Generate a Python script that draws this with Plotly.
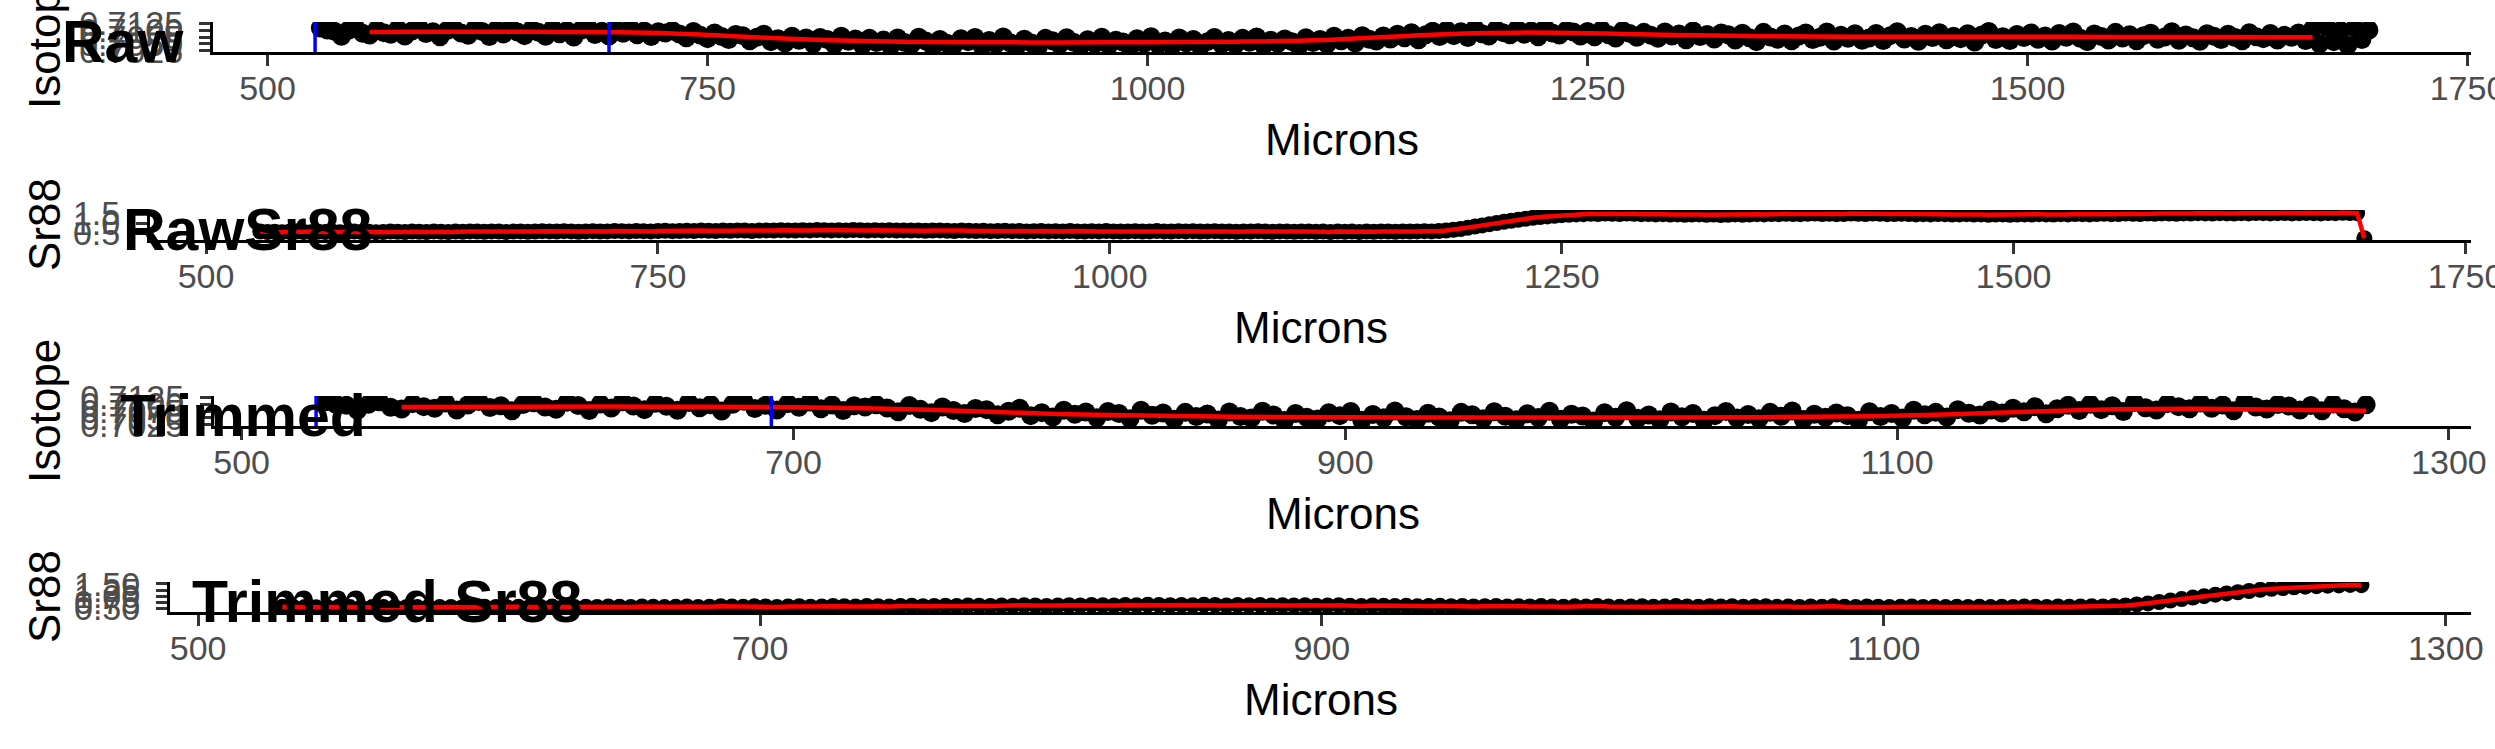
import plotly.graph_objects as go

W, H = 2495, 749

# ---------------- data ----------------
microns = [
    530, 534, 538, 542, 546, 550, 554, 558, 562, 566,
    570, 574, 578, 582, 586, 590, 594, 598, 602, 606,
    610, 614, 618, 622, 626, 630, 634, 638, 642, 646,
    650, 654, 658, 662, 666, 670, 674, 678, 682, 686,
    690, 694, 698, 702, 706, 710, 714, 718, 722, 726,
    730, 734, 738, 742, 746, 750, 754, 758, 762, 766,
    770, 774, 778, 782, 786, 790, 794, 798, 802, 806,
    810, 814, 818, 822, 826, 830, 834, 838, 842, 846,
    850, 854, 858, 862, 866, 870, 874, 878, 882, 886,
    890, 894, 898, 902, 906, 910, 914, 918, 922, 926,
    930, 934, 938, 942, 946, 950, 954, 958, 962, 966,
    970, 974, 978, 982, 986, 990, 994, 998, 1002, 1006,
    1010, 1014, 1018, 1022, 1026, 1030, 1034, 1038, 1042, 1046,
    1050, 1054, 1058, 1062, 1066, 1070, 1074, 1078, 1082, 1086,
    1090, 1094, 1098, 1102, 1106, 1110, 1114, 1118, 1122, 1126,
    1130, 1134, 1138, 1142, 1146, 1150, 1154, 1158, 1162, 1166,
    1170, 1174, 1178, 1182, 1186, 1190, 1194, 1198, 1202, 1206,
    1210, 1214, 1218, 1222, 1226, 1230, 1234, 1238, 1242, 1246,
    1250, 1254, 1258, 1262, 1266, 1270, 1274, 1278, 1282, 1286,
    1290, 1294, 1298, 1302, 1306, 1310, 1314, 1318, 1322, 1326,
    1330, 1334, 1338, 1342, 1346, 1350, 1354, 1358, 1362, 1366,
    1370, 1374, 1378, 1382, 1386, 1390, 1394, 1398, 1402, 1406,
    1410, 1414, 1418, 1422, 1426, 1430, 1434, 1438, 1442, 1446,
    1450, 1454, 1458, 1462, 1466, 1470, 1474, 1478, 1482, 1486,
    1490, 1494, 1498, 1502, 1506, 1510, 1514, 1518, 1522, 1526,
    1530, 1534, 1538, 1542, 1546, 1550, 1554, 1558, 1562, 1566,
    1570, 1574, 1578, 1582, 1586, 1590, 1594, 1598, 1602, 1606,
    1610, 1614, 1618, 1622, 1626, 1630, 1634, 1638, 1642, 1646,
    1650, 1654, 1658, 1662, 1666, 1670, 1674, 1678, 1682, 1686,
    1690, 1694,
]

raw_isotope = [
    0.7108, 0.7101, 0.7096, 0.7078, 0.7100, 0.7109, 0.7089, 0.7082, 0.7102, 0.7091,
    0.7085, 0.7104, 0.7079, 0.7097, 0.7110, 0.7088, 0.7094, 0.7076, 0.7099, 0.7105,
    0.7090, 0.7081, 0.7107, 0.7095, 0.7077, 0.7101, 0.7086, 0.7109, 0.7093, 0.7080,
    0.7103, 0.7092, 0.7078, 0.7106, 0.7087, 0.7098, 0.7075, 0.7100, 0.7111, 0.7084,
    0.7096, 0.7079, 0.7102, 0.7089, 0.7108, 0.7083, 0.7097, 0.7077, 0.7094, 0.7090,
    0.7098, 0.7086, 0.7072, 0.7095, 0.7081, 0.7069, 0.7090, 0.7077, 0.7066, 0.7084,
    0.7080, 0.7061, 0.7074, 0.7085, 0.7058, 0.7069, 0.7053, 0.7078, 0.7063, 0.7071,
    0.7050, 0.7073, 0.7066, 0.7047, 0.7078, 0.7059, 0.7068, 0.7045, 0.7070, 0.7055,
    0.7064, 0.7042, 0.7071, 0.7055, 0.7049, 0.7074, 0.7060, 0.7040, 0.7066, 0.7052,
    0.7046, 0.7069, 0.7058, 0.7073, 0.7041, 0.7062, 0.7050, 0.7075, 0.7054, 0.7044,
    0.7067, 0.7053, 0.7039, 0.7070, 0.7061, 0.7047, 0.7072, 0.7056, 0.7043, 0.7065,
    0.7051, 0.7074, 0.7045, 0.7063, 0.7057, 0.7038, 0.7069, 0.7052, 0.7076, 0.7048,
    0.7060, 0.7043, 0.7071, 0.7054, 0.7066, 0.7041, 0.7058, 0.7073, 0.7049, 0.7062,
    0.7047, 0.7070, 0.7056, 0.7075, 0.7044, 0.7063, 0.7052, 0.7068, 0.7058, 0.7041,
    0.7072, 0.7055, 0.7066, 0.7049, 0.7078, 0.7061, 0.7070, 0.7053, 0.7080, 0.7067,
    0.7060, 0.7079, 0.7068, 0.7085, 0.7072, 0.7091, 0.7065, 0.7083, 0.7096, 0.7077,
    0.7100, 0.7080, 0.7094, 0.7073, 0.7106, 0.7087, 0.7079, 0.7102, 0.7091, 0.7083,
    0.7104, 0.7085, 0.7097, 0.7076, 0.7108, 0.7090, 0.7082, 0.7099, 0.7093, 0.7079,
    0.7095, 0.7076, 0.7101, 0.7083, 0.7071, 0.7098, 0.7088, 0.7074, 0.7092, 0.7081,
    0.7070, 0.7093, 0.7079, 0.7086, 0.7065, 0.7097, 0.7077, 0.7084, 0.7068, 0.7090,
    0.7083, 0.7064, 0.7089, 0.7072, 0.7058, 0.7092, 0.7075, 0.7067, 0.7086, 0.7061,
    0.7079, 0.7090, 0.7066, 0.7074, 0.7093, 0.7060, 0.7081, 0.7070, 0.7087, 0.7063,
    0.7071, 0.7088, 0.7062, 0.7080, 0.7094, 0.7068, 0.7077, 0.7059, 0.7085, 0.7073,
    0.7091, 0.7065, 0.7078, 0.7069, 0.7087, 0.7057, 0.7082, 0.7095, 0.7066, 0.7076,
    0.7062, 0.7084, 0.7073, 0.7090, 0.7067, 0.7079, 0.7060, 0.7088, 0.7074, 0.7093,
    0.7070, 0.7058, 0.7086, 0.7077, 0.7064, 0.7092, 0.7071, 0.7083, 0.7061, 0.7080,
    0.7089, 0.7067, 0.7075, 0.7094, 0.7063, 0.7082, 0.7072, 0.7059, 0.7087, 0.7078,
    0.7066, 0.7085, 0.7073, 0.7061, 0.7091, 0.7076, 0.7069, 0.7088, 0.7064, 0.7081,
    0.7074, 0.7090, 0.7062, 0.7104, 0.7050, 0.7112, 0.7058, 0.7098, 0.7045, 0.7108,
    0.7066, 0.7101,
]

raw_sr88 = [
    0.57, 0.55, 0.56, 0.54, 0.56, 0.57, 0.55, 0.54, 0.56, 0.55,
    0.56, 0.54, 0.55, 0.57, 0.55, 0.56, 0.54, 0.55, 0.57, 0.56,
    0.55, 0.57, 0.56, 0.55, 0.58, 0.56, 0.55, 0.57, 0.56, 0.58,
    0.57, 0.56, 0.58, 0.57, 0.55, 0.57, 0.58, 0.56, 0.57, 0.59,
    0.58, 0.57, 0.59, 0.58, 0.56, 0.58, 0.59, 0.57, 0.58, 0.60,
    0.59, 0.58, 0.60, 0.59, 0.58, 0.60, 0.61, 0.59, 0.60, 0.61,
    0.60, 0.62, 0.61, 0.60, 0.62, 0.61, 0.63, 0.62, 0.60, 0.62,
    0.63, 0.62, 0.64, 0.63, 0.62, 0.64, 0.63, 0.65, 0.64, 0.63,
    0.64, 0.63, 0.65, 0.64, 0.62, 0.64, 0.63, 0.64, 0.62, 0.63,
    0.62, 0.63, 0.61, 0.62, 0.63, 0.61, 0.60, 0.62, 0.61, 0.60,
    0.61, 0.59, 0.60, 0.61, 0.59, 0.60, 0.58, 0.59, 0.60, 0.58,
    0.59, 0.58, 0.60, 0.58, 0.57, 0.59, 0.58, 0.60, 0.58, 0.57,
    0.58, 0.59, 0.57, 0.58, 0.60, 0.58, 0.57, 0.59, 0.58, 0.59,
    0.57, 0.58, 0.59, 0.57, 0.58, 0.56, 0.58, 0.57, 0.59, 0.57,
    0.56, 0.58, 0.57, 0.56, 0.57, 0.58, 0.56, 0.57, 0.55, 0.57,
    0.56, 0.57, 0.55, 0.57, 0.56, 0.58, 0.57, 0.56, 0.58, 0.57,
    0.58, 0.59, 0.58, 0.60, 0.62, 0.66, 0.70, 0.76, 0.82, 0.88,
    0.94, 1.00, 1.06, 1.11, 1.16, 1.21, 1.26, 1.30, 1.33, 1.36,
    1.39, 1.41, 1.43, 1.44, 1.46, 1.45, 1.47, 1.46, 1.45, 1.47,
    1.46, 1.44, 1.45, 1.43, 1.44, 1.42, 1.43, 1.41, 1.42, 1.43,
    1.41, 1.42, 1.40, 1.41, 1.43, 1.41, 1.42, 1.44, 1.43, 1.45,
    1.44, 1.46, 1.45, 1.44, 1.46, 1.47, 1.45, 1.46, 1.44, 1.45,
    1.47, 1.46, 1.45, 1.47, 1.46, 1.44, 1.45, 1.46, 1.45, 1.43,
    1.44, 1.43, 1.45, 1.44, 1.42, 1.43, 1.44, 1.42, 1.43, 1.41,
    1.42, 1.43, 1.41, 1.42, 1.43, 1.42, 1.44, 1.43, 1.42, 1.44,
    1.43, 1.45, 1.44, 1.43, 1.45, 1.46, 1.44, 1.45, 1.47, 1.46,
    1.45, 1.47, 1.46, 1.48, 1.47, 1.46, 1.48, 1.47, 1.49, 1.48,
    1.47, 1.49, 1.48, 1.47, 1.49, 1.48, 1.50, 1.49, 1.48, 1.49,
    1.50, 1.48, 1.49, 1.50, 1.49, 1.48, 1.50, 1.49, 1.51, 1.50,
    1.49, 0.24,
]

raw_smooth_microns = [558, 600, 650, 700, 730, 760, 790, 820, 860, 900, 950, 1000, 1050,
                      1090, 1120, 1150, 1180, 1210, 1240, 1270, 1300, 1350, 1400, 1450,
                      1500, 1550, 1600, 1640, 1662]
raw_smooth_isotope = [0.7093, 0.7094, 0.7094, 0.7092, 0.7088, 0.7080, 0.7070, 0.7063, 0.7058,
                      0.7056, 0.7055, 0.7056, 0.7058, 0.7062, 0.7070, 0.7080, 0.7088, 0.7091,
                      0.7090, 0.7086, 0.7082, 0.7078, 0.7076, 0.7076, 0.7076, 0.7075, 0.7075,
                      0.7074, 0.7074]

trim_smooth_microns = [558, 600, 650, 700, 730, 760, 790, 820, 860, 900, 950, 1000, 1050,
                       1090, 1120, 1150, 1180, 1210, 1240, 1270]
trim_smooth_isotope = [0.7090, 0.7091, 0.7091, 0.7089, 0.7084, 0.7076, 0.7066, 0.7059, 0.7054,
                       0.7052, 0.7051, 0.7051, 0.7052, 0.7056, 0.7063, 0.7073, 0.7081, 0.7083,
                       0.7080, 0.7076]

TRIM_END = 1270
raw_window = [527, 694]
trim_window = [527, 692]

panel_labels = ["Raw", "RawSr88", "Trimmed", "Trimmed Sr88"]
y_titles = ["Isotope", "Sr88", "Isotope", "Sr88"]

iso_ticks = [0.7025, 0.7050, 0.7075, 0.7100, 0.7125]
iso_ticktext = ["0.7025", "0.7050", "0.7075", "0.7100", "0.7125"]
sr_raw_ticks = [0.5, 1.0, 1.5]
sr_raw_ticktext = ["0.5", "1.0", "1.5"]
sr_trim_ticks = [0.50, 0.75, 1.00, 1.25, 1.50]
sr_trim_ticktext = ["0.50", "0.75", "1.00", "1.25", "1.50"]
x_raw_ticks = [500, 750, 1000, 1250, 1500, 1750]
x_trim_ticks = [500, 700, 900, 1100, 1300]

# trimmed subsets
trim_microns = [m for m in microns if m <= TRIM_END]
trim_isotope = raw_isotope[:len(trim_microns)]
trim_sr88 = raw_sr88[:len(trim_microns)]

# ---------------- layout geometry (pixels) ----------------
panels = [
    dict(x=(213, 2471), y=(22, 52), xr=[469, 1752], yr=[0.7020, 0.7130],
         xt=x_raw_ticks, yt=iso_ticks, ytt=iso_ticktext, lab_x=60, msize=19),
    dict(x=(150, 2471), y=(210, 240), xr=[469, 1753], yr=[0.15, 1.65],
         xt=x_raw_ticks, yt=sr_raw_ticks, ytt=sr_raw_ticktext, lab_x=121, msize=16),
    dict(x=(214, 2471), y=(396, 426), xr=[490, 1308], yr=[0.7020, 0.7130],
         xt=x_trim_ticks, yt=iso_ticks, ytt=iso_ticktext, lab_x=118, msize=19),
    dict(x=(170, 2471), y=(582, 612), xr=[490, 1309], yr=[0.35, 1.58],
         xt=x_trim_ticks, yt=sr_trim_ticks, ytt=sr_trim_ticktext, lab_x=190, msize=16),
]

FONT = "Liberation Sans"
fig = go.Figure()

series = [
    (microns, raw_isotope, raw_smooth_microns, raw_smooth_isotope, "spline"),
    (microns, raw_sr88, microns, raw_sr88, "linear"),
    (trim_microns, trim_isotope, trim_smooth_microns, trim_smooth_isotope, "spline"),
    (trim_microns, trim_sr88, trim_microns, trim_sr88, "linear"),
]

for i, (px, py, lx, ly, shape) in enumerate(series):
    n = "" if i == 0 else str(i + 1)
    fig.add_trace(go.Scatter(x=px, y=py, mode="markers", xaxis="x" + n, yaxis="y" + n,
                             marker=dict(size=panels[i]["msize"], color="black", line=dict(width=0)),
                             showlegend=False, hoverinfo="skip"))
    fig.add_trace(go.Scatter(x=lx, y=ly, mode="lines", xaxis="x" + n, yaxis="y" + n,
                             line=dict(color="#FF0000", width=4.5, shape=shape),
                             showlegend=False, hoverinfo="skip"))

layout = dict(width=W, height=H, margin=dict(l=0, r=0, t=0, b=0, pad=0, autoexpand=False),
              paper_bgcolor="white", plot_bgcolor="white", showlegend=False,
              font=dict(family=FONT), template="none")

annotations = []
shapes = []
for i, p in enumerate(panels):
    n = "" if i == 0 else str(i + 1)
    xd = [p["x"][0] / W, p["x"][1] / W]
    yd = [1 - p["y"][1] / H, 1 - p["y"][0] / H]
    common = dict(showgrid=False, zeroline=False, showline=True, linecolor="black",
                  linewidth=3, ticks="outside", ticklen=11, tickwidth=3, tickcolor="#333333",
                  automargin=False, ticklabeloverflow="allow",
                  tickfont=dict(size=34, color="#4D4D4D", family=FONT))
    layout["xaxis" + n] = dict(domain=xd, range=p["xr"], anchor="y" + n,
                               tickvals=p["xt"], ticklabelstandoff=-7, **common)
    layout["yaxis" + n] = dict(domain=yd, range=p["yr"], anchor="x" + n,
                               tickvals=p["yt"], ticktext=p["ytt"], ticklabelstandoff=9, **common)
    # x title
    annotations.append(dict(text="Microns", xref="paper", yref="paper",
                            x=(p["x"][0] + p["x"][1]) / 2 / W, y=1 - (p["y"][1] + 87) / H,
                            xanchor="center", yanchor="middle", showarrow=False,
                            font=dict(size=44, color="black", family=FONT)))
    # y title
    annotations.append(dict(text=y_titles[i], xref="paper", yref="paper",
                            x=44 / W, y=1 - (p["y"][0] + p["y"][1]) / 2 / H,
                            xanchor="center", yanchor="middle", textangle=-90, showarrow=False,
                            font=dict(size=44, color="black", family=FONT)))
    # panel label
    annotations.append(dict(text="<b>" + panel_labels[i] + "</b>", xref="paper", yref="paper",
                            x=p["lab_x"] / W, y=1 - (p["y"][0] + 20) / H,
                            xanchor="left", yanchor="middle", showarrow=False,
                            font=dict(size=59, color="black", family=FONT)))

for n, win in (("", raw_window), ("3", trim_window)):
    for v in win:
        shapes.append(dict(type="line", xref="x" + n, yref="y" + n + " domain",
                           x0=v, x1=v, y0=0, y1=1, layer="above",
                           line=dict(color="#0000FF", width=3.5)))

layout["annotations"] = annotations
layout["shapes"] = shapes
fig.update_layout(**layout)
fig.write_html("out.html", config={"displayModeBar": False, "staticPlot": True},
               post_script="document.body.style.margin='0px';document.body.style.overflow='hidden';")
